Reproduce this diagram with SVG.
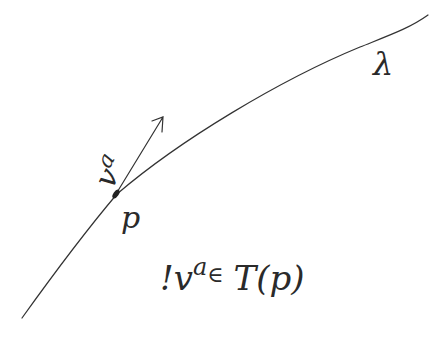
<svg xmlns="http://www.w3.org/2000/svg" width="446" height="348" viewBox="0 0 446 348">
<style>
.ln{fill:none;stroke:#333;stroke-width:1.2;stroke-linecap:round}
.t{font-family:"DejaVu Serif","Liberation Serif",serif;font-style:italic;fill:#2a2a2a}
</style>
<rect width="446" height="348" fill="#fff"/>
<g id="connectors">
<path id="curve" class="ln" d="M22,318 C60,265 95,220 117,194 C180,140 280,80 360,47 C390,35 410,28 428,15"/>
<path id="vector" class="ln" stroke-width="1.5" d="M116,194 L163,117 M152,121 L163,117 L162,132"/>
</g>
<g id="point-p">
<ellipse cx="116" cy="194" rx="2.6" ry="5" transform="rotate(35 116 194)" fill="#222"/>
<text class="t" x="121" y="228" font-size="30">p</text>
</g>
<g id="label-v">
<text class="t" font-size="30" transform="translate(112,190) rotate(-62)">v<tspan font-size="22" dy="-12">a</tspan></text>
</g>
<g id="label-lambda">
<text class="t" x="373" y="75" font-size="32">λ</text>
</g>
<g id="statement">
<text class="t" x="160" y="290" font-size="34">!v<tspan font-size="24" dy="-15">a</tspan><tspan font-size="22" dy="7">∈</tspan><tspan dy="8" dx="10">T(p)</tspan></text>
</g>
</svg>
